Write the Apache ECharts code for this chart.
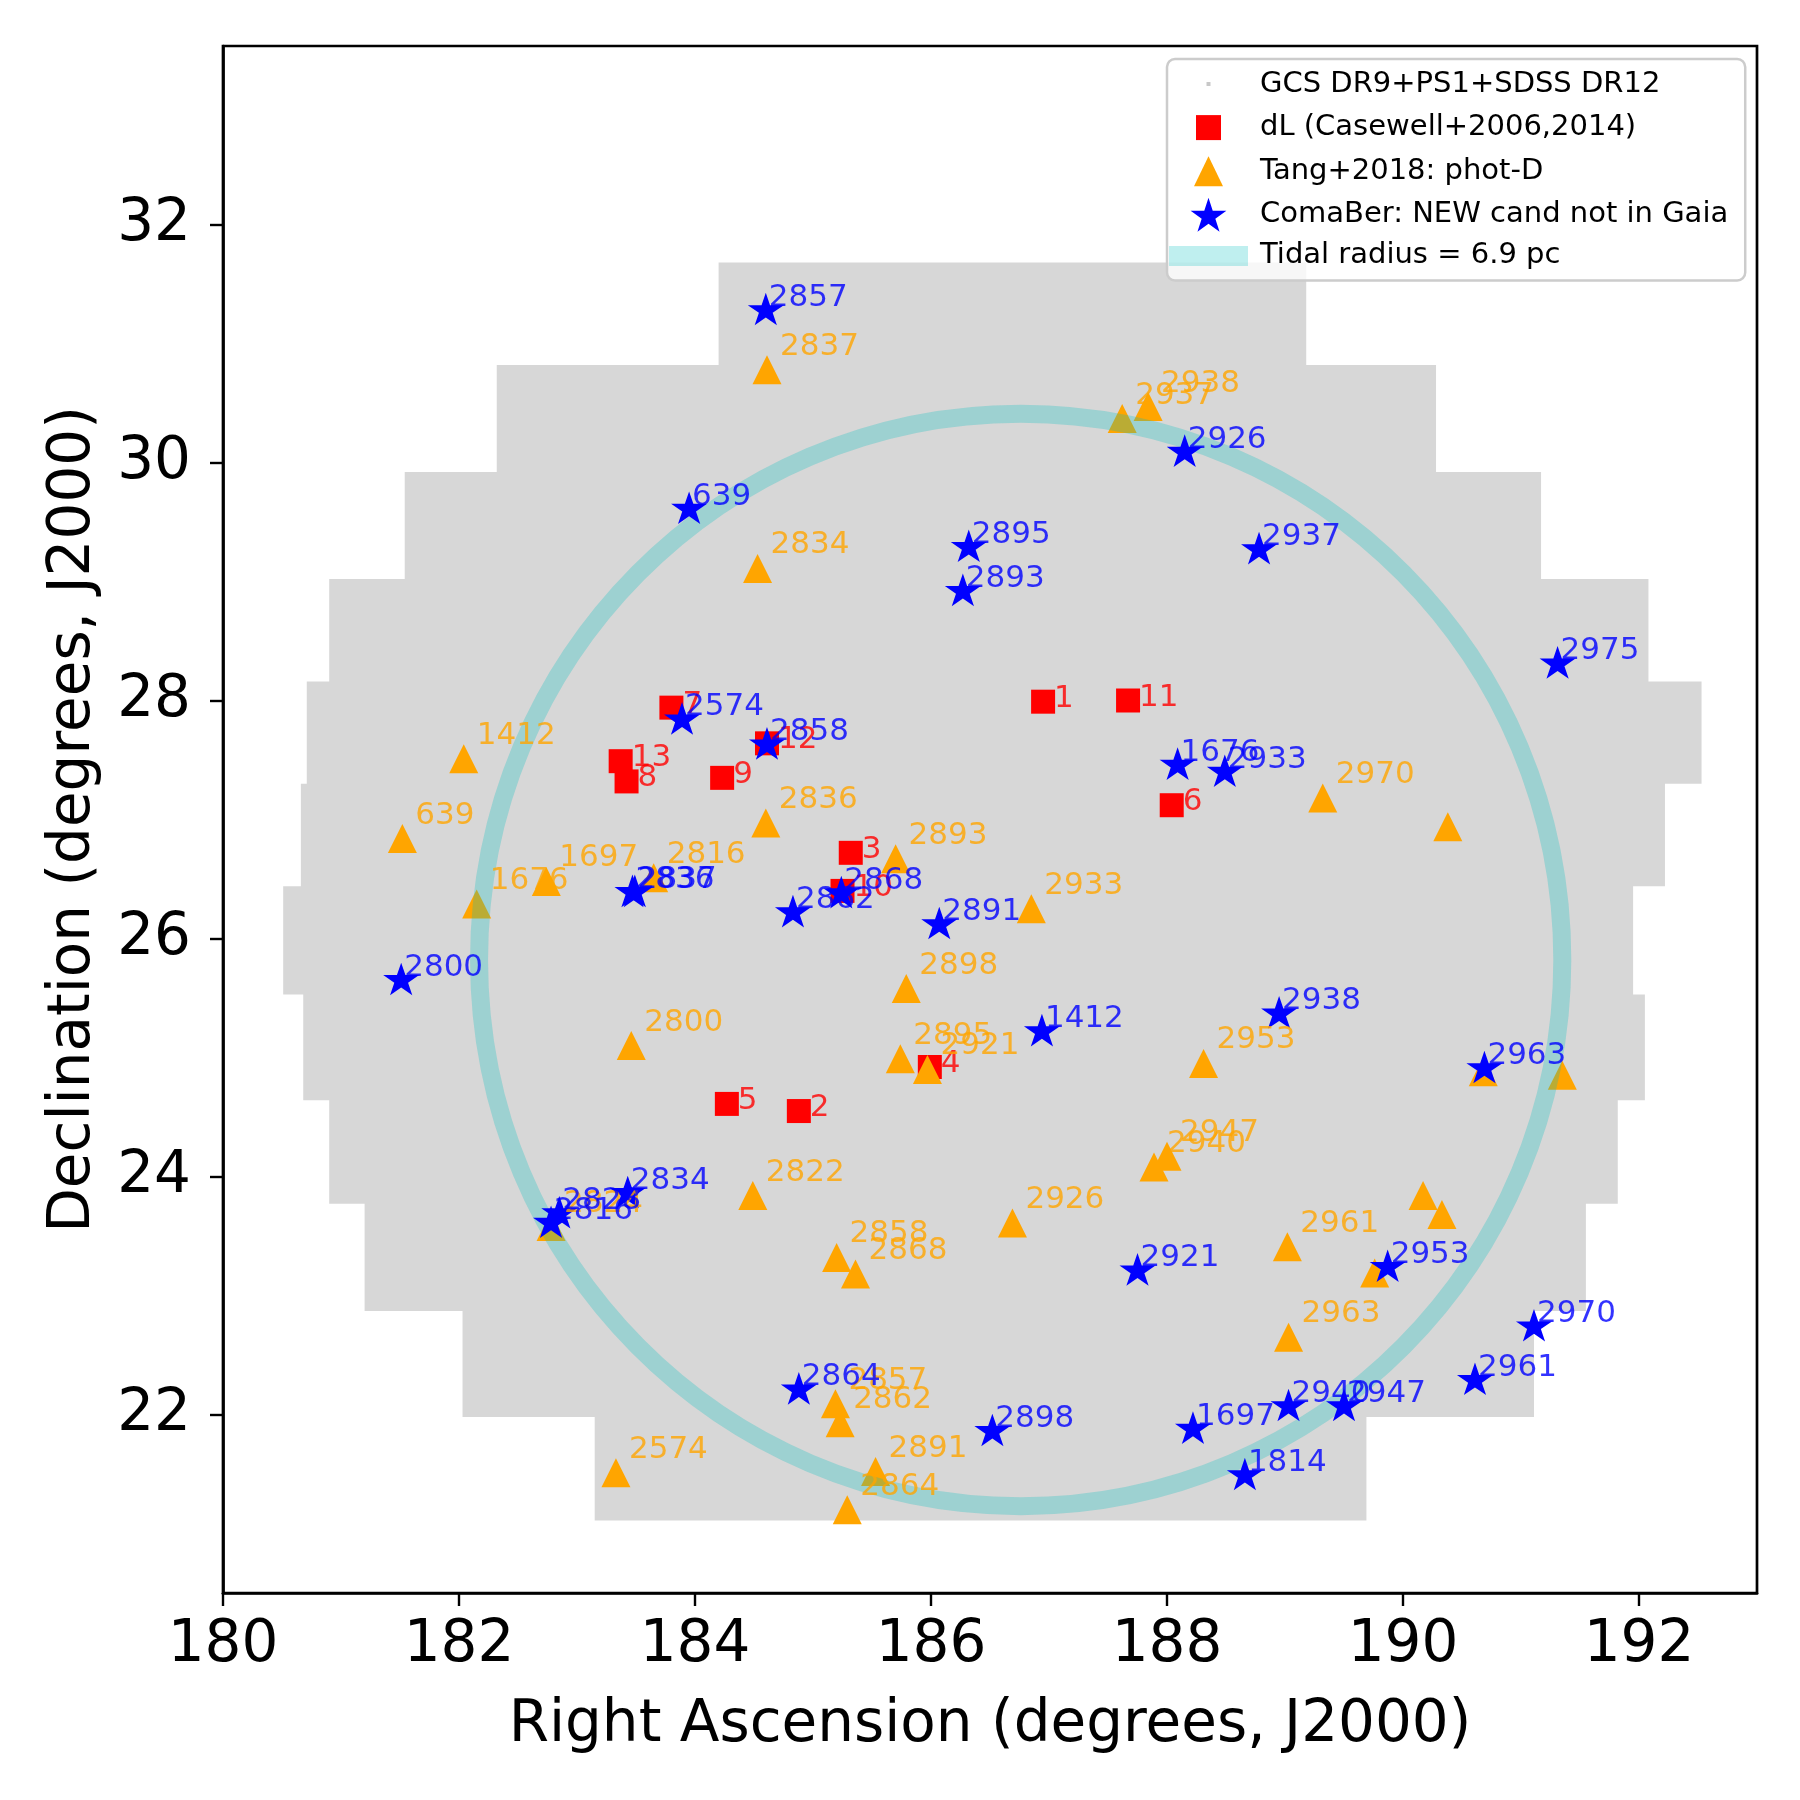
<!DOCTYPE html>
<html>
<head>
<meta charset="utf-8">
<title>Coma Ber field</title>
<script src="https://cdn.jsdelivr.net/npm/echarts@6.0.0/dist/echarts.min.js"></script>
<style>
html, body { margin: 0; padding: 0; background: #fff; }
#chart { width: 1800px; height: 1800px; }
</style>
</head>
<body>
<div id="chart"></div>
<script>
// tick labels
var raTicks = [180, 182, 184, 186, 188, 190, 192];
var decTicks = [22, 24, 26, 28, 30, 32];

// survey footprint, stepped in dec bands (top to bottom)
var fpDecEdges = [31.68, 30.82, 29.92, 29.02, 28.16, 27.30, 26.44, 25.53, 24.64, 23.77, 22.87, 21.98, 21.11];
var fpRaLeft  = [184.20, 182.32, 181.54, 180.90, 180.71, 180.66, 180.51, 180.68, 180.90, 181.20, 182.03, 183.15];
var fpRaRight = [189.18, 190.28, 191.17, 192.08, 192.53, 192.22, 191.95, 192.05, 191.82, 191.55, 191.11, 189.69];

// dL (Casewell+2006,2014)
var dlNames = ['1', '11', '7', '13', '8', '9', '12', '6', '3', '10', '4', '5', '2'];
var dlRa  = [186.95, 187.67, 183.80, 183.37, 183.42, 184.23, 184.61, 188.04, 185.32, 185.25, 185.99, 184.27, 184.88];
var dlDec = [27.99, 28.00, 27.94, 27.49, 27.32, 27.35, 27.64, 27.12, 26.72, 26.40, 24.92, 24.61, 24.55];

// Tang+2018: phot-D
var tangNames = ['2837', '2937', '2938', '2834', '1412', '639', '2836', '2893', '2970', '',
    '1697', '1676', '2816', '2933', '2898', '2800', '2895', '2921', '2953', '2947',
    '2940', '2822', '2824', '2926', '2858', '2868', '2961', '', '', '',
    '2963', '2857', '2862', '2574', '2891', '2864', '', ''];
var tangRa = [184.61, 187.62, 187.84, 184.53, 182.04, 181.52, 184.60, 185.70, 189.32, 190.38,
    182.74, 182.15, 183.65, 186.85, 185.79, 183.46, 185.74, 185.97, 188.31, 188.00,
    187.89, 184.49, 182.78, 186.69, 185.20, 185.36, 189.02, 190.17, 190.33, 189.76,
    189.03, 185.19, 185.23, 183.33, 185.53, 185.29, 190.68, 191.35];
var tangDec = [30.78, 30.37, 30.47, 29.11, 27.51, 26.84, 26.97, 26.67, 27.18, 26.94,
    26.48, 26.29, 26.51, 26.25, 25.58, 25.10, 24.99, 24.90, 24.95, 24.17,
    24.08, 23.84, 23.58, 23.61, 23.32, 23.18, 23.41, 23.84, 23.68, 23.19,
    22.65, 22.09, 21.93, 21.51, 21.52, 21.20, 24.88, 24.85];

// ComaBer: NEW cand not in Gaia
var comaNames = ['2857', '2926', '639', '2895', '2937', '2893', '2975', '2574', '2858', '1676',
    '2933', '2836', '2837', '2868', '2862', '2891', '2800', '1412', '2938', '2963',
    '2834', '2828', '2816', '2921', '2953', '2970', '2961', '2864', '2940', '2947',
    '2898', '1697', '1814'];
var comaRa = [184.60, 188.15, 183.95, 186.32, 188.78, 186.27, 191.31, 183.89, 184.61, 188.09,
    188.49, 183.47, 183.49, 185.24, 184.83, 186.07, 181.51, 186.94, 188.95, 190.69,
    183.43, 182.85, 182.78, 187.75, 189.87, 191.11, 190.61, 184.88, 189.03, 189.50,
    186.52, 188.22, 188.66];
var comaDec = [31.29, 30.10, 29.62, 29.30, 29.28, 28.93, 28.32, 27.85, 27.64, 27.47,
    27.41, 26.40, 26.40, 26.39, 26.23, 26.13, 25.66, 25.23, 25.38, 24.92,
    23.87, 23.70, 23.62, 23.22, 23.25, 22.75, 22.30, 22.22, 22.08, 22.08,
    21.87, 21.89, 21.50];

// tidal radius ring: centre (ra, dec) and radius, degrees
var ringCenter = [186.76, 25.82];
var ringRadius = 4.59;

var nameGcs = 'GCS DR9+PS1+SDSS DR12';
var nameDl = 'dL (Casewell+2006,2014)';
var nameTang = 'Tang+2018: phot-D';
var nameComa = 'ComaBer: NEW cand not in Gaia';
var nameRing = 'Tidal radius = 6.9 pc';

var FONT = 'DejaVu Sans';
var ringColor = 'rgba(0,191,191,0.27)';
var starPath = 'path://M0,-100L22.45,-30.9L95.11,-30.9L36.33,11.8L58.78,80.9L0,38.2L-58.78,80.9L-36.33,11.8L-95.11,-30.9L-22.45,-30.9Z';

function zip(ra, dec, names) {
    var out = [];
    for (var i = 0; i < ra.length; i++) {
        out.push([ra[i], dec[i], names[i]]);
    }
    return out;
}

var dlPts = zip(dlRa, dlDec, dlNames);
var tangPts = zip(tangRa, tangDec, tangNames);
var comaPts = zip(comaRa, comaDec, comaNames);

// label-only series so the texts sit above every marker, like matplotlib
function labelSeries(id, pts, color, dx, dy, z) {
    return {
        type: 'scatter',
        name: id,
        data: pts,
        symbol: 'circle',
        symbolSize: 1,
        itemStyle: { color: 'transparent' },
        silent: true,
        z: z,
        label: {
            show: true,
            position: 'inside',
            align: 'left',
            verticalAlign: 'middle',
            offset: [dx, dy],
            color: color,
            fontSize: 31,
            fontFamily: FONT,
            formatter: function (p) { return p.value[2]; }
        }
    };
}

var myChart = echarts.init(document.getElementById('chart'), null, { renderer: 'canvas' });

var option = {
    animation: false,
    backgroundColor: '#ffffff',
    textStyle: { fontFamily: FONT },
    grid: {
        left: 223, right: 43, top: 46, bottom: 207,
        outerBoundsMode: 'none',
        show: true, borderColor: '#000', borderWidth: 2.7, backgroundColor: 'transparent'
    },
    xAxis: {
        type: 'value', min: 180, max: 193,
        name: 'Right Ascension (degrees, J2000)',
        nameLocation: 'middle', nameGap: 104,
        nameTextStyle: { fontSize: 58, color: '#000', fontFamily: FONT },
        axisLine: { show: true, onZero: false, lineStyle: { color: '#000', width: 2.7 } },
        axisTick: { show: true, inside: false, length: 13, customValues: raTicks, lineStyle: { color: '#000', width: 2.4 } },
        axisLabel: { customValues: raTicks, fontSize: 58, color: '#000', margin: 24, fontFamily: FONT },
        splitLine: { show: false }
    },
    yAxis: {
        type: 'value', min: 20.5, max: 33.5,
        name: 'Declination (degrees, J2000)',
        nameLocation: 'middle', nameGap: 120,
        nameTextStyle: { fontSize: 58, color: '#000', fontFamily: FONT },
        axisLine: { show: true, onZero: false, lineStyle: { color: '#000', width: 2.7 } },
        axisTick: { show: true, inside: false, length: 13, customValues: decTicks, lineStyle: { color: '#000', width: 2.4 } },
        axisLabel: { customValues: decTicks, fontSize: 58, color: '#000', margin: 32, fontFamily: FONT },
        splitLine: { show: false }
    },
    legend: {
        orient: 'vertical',
        left: 1167, top: 59,
        padding: [8, 17, 10, 2],
        itemWidth: 79, itemHeight: 34, itemGap: 9.6,
        selectedMode: false,
        backgroundColor: 'rgba(255,255,255,0.8)',
        borderColor: '#cccccc', borderWidth: 2.5, borderRadius: 8,
        textStyle: { fontSize: 29, color: '#000', fontFamily: FONT, padding: [0, 0, 0, 7] },
        data: [
            { name: nameGcs, icon: 'path://M-17,-17M17,17M-2,-2H2V2H-2Z', itemStyle: { color: '#c8c8c8' } },
            { name: nameDl, icon: 'path://M-17,-17M17,17M-12.5,-12.5H12.5V12.5H-12.5Z', itemStyle: { color: '#ff0000' } },
            { name: nameTang, icon: 'path://M-17,-17M17,17M0,-15L14.5,15H-14.5Z', itemStyle: { color: '#ffa500' } },
            { name: nameComa, icon: starPath, itemStyle: { color: '#0000ff' } },
            { name: nameRing, icon: 'path://M0,0H79V20H0Z', itemStyle: { color: 'rgba(0,191,191,0.25)' } }
        ]
    },
    series: [
        {
            // survey coverage drawn as its stepped outline
            type: 'custom',
            name: nameGcs,
            z: 1,
            silent: true,
            data: [[fpRaLeft[0], fpDecEdges[0]]],
            renderItem: function (params, api) {
                var pts = [];
                var n = fpRaLeft.length;
                for (var i = 0; i < n; i++) {
                    pts.push(api.coord([fpRaLeft[i], fpDecEdges[i]]));
                    pts.push(api.coord([fpRaLeft[i], fpDecEdges[i + 1]]));
                }
                for (var j = n - 1; j >= 0; j--) {
                    pts.push(api.coord([fpRaRight[j], fpDecEdges[j + 1]]));
                    pts.push(api.coord([fpRaRight[j], fpDecEdges[j]]));
                }
                return { type: 'polygon', shape: { points: pts }, style: { fill: '#d7d7d7' } };
            }
        },
        {
            type: 'scatter', name: nameDl, z: 2, silent: true,
            data: dlPts, symbol: 'rect', symbolSize: 24,
            itemStyle: { color: '#ff0000', opacity: 1 }
        },
        {
            type: 'scatter', name: nameTang, z: 3, silent: true,
            data: tangPts, symbol: 'triangle', symbolSize: 29,
            itemStyle: { color: '#ffa500', opacity: 1 }
        },
        {
            type: 'custom', name: nameRing, z: 4, silent: true,
            data: [[ringCenter[0], ringCenter[1], ringRadius]],
            renderItem: function (params, api) {
                var c = api.coord([api.value(0), api.value(1)]);
                var s = api.size([api.value(2), api.value(2)]);
                return {
                    type: 'ellipse',
                    shape: { cx: c[0], cy: c[1], rx: s[0], ry: s[1] },
                    style: { fill: 'none', stroke: ringColor, lineWidth: 18 }
                };
            }
        },
        {
            type: 'scatter', name: nameComa, z: 5, silent: true,
            data: comaPts, symbol: starPath, symbolSize: [36, 34.3], symbolKeepAspect: true,
            itemStyle: { color: '#0000ff', opacity: 1 }
        },
        labelSeries('lab-dl', dlPts, '#ff0000', 11, -3, 6),
        labelSeries('lab-tang', tangPts, '#ffa500', 13, -23, 7),
        labelSeries('lab-coma', comaPts, '#0000ff', 3, -11, 8)
    ]
};

myChart.setOption(option);
</script>
</body>
</html>
